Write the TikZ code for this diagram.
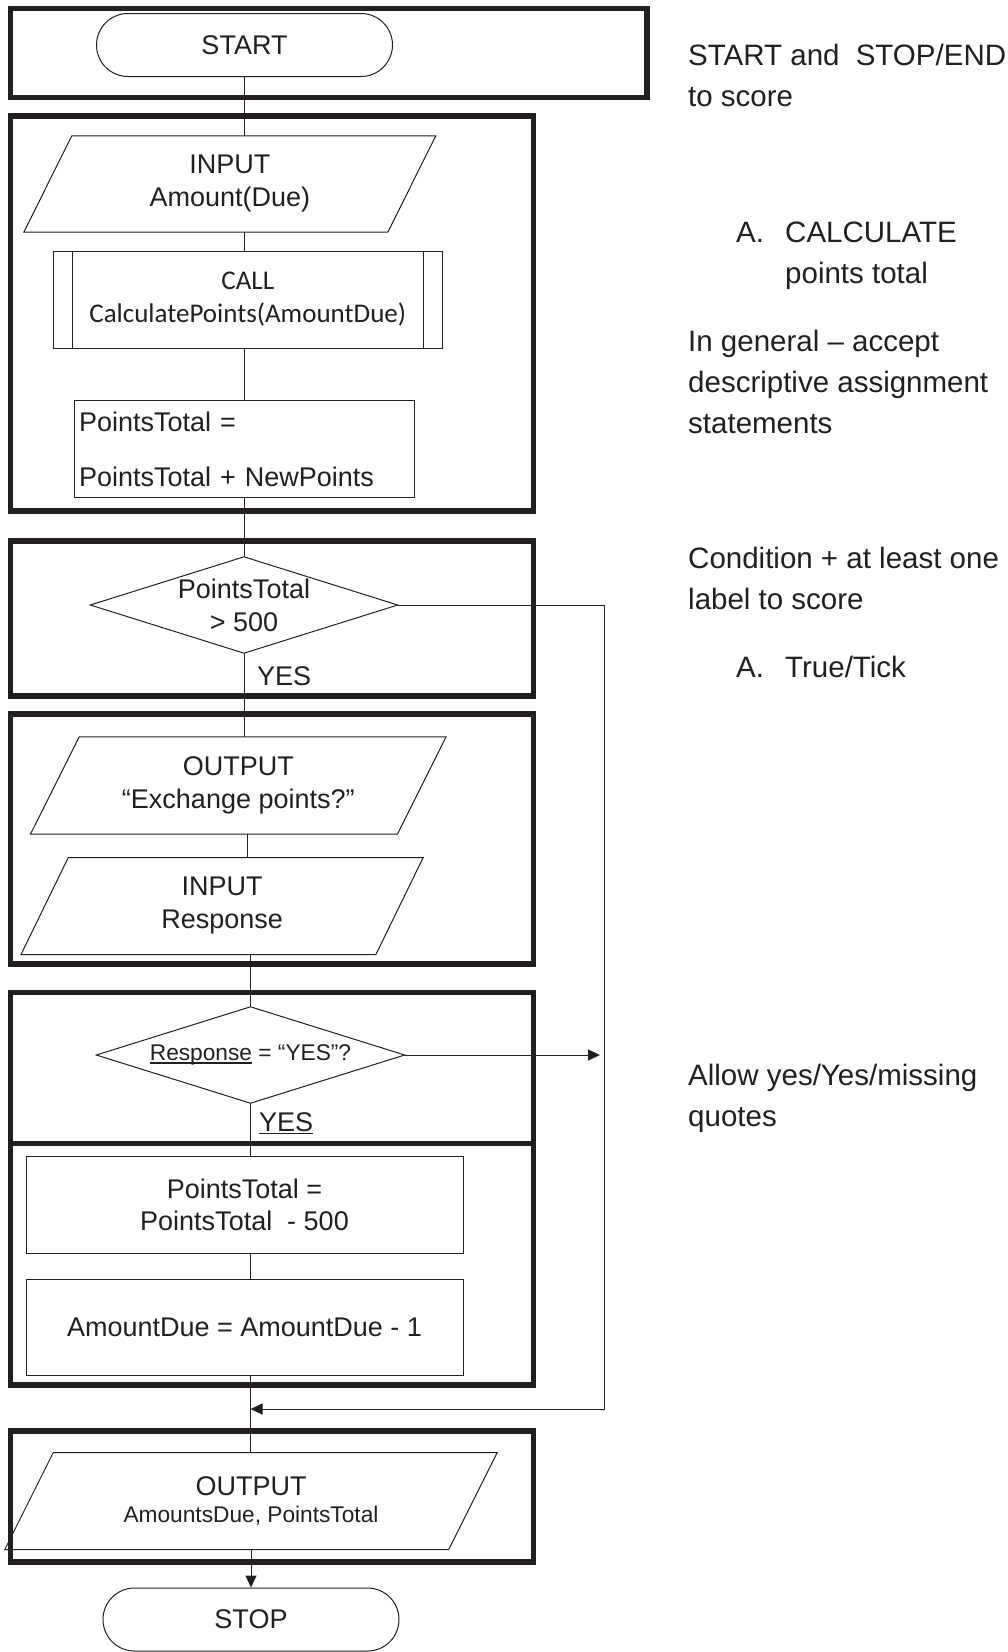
\documentclass[tikz,border=0pt]{standalone}
\usepackage{fontspec}
\setmainfont{Liberation Sans}
\newfontfamily\calfont{Carlito}
\usetikzlibrary{arrows.meta,calc}
\definecolor{ink}{HTML}{231F20}
\newsavebox\ulbox
\newcommand\myul[1]{\sbox\ulbox{#1}\rlap{\rule[-3pt]{\wd\ulbox}{1.4pt}}\usebox\ulbox}
\newcommand\iopath[2]{\draw[thinline] ($(#1.north west)+(#2,0)$) -- (#1.north east) -- ($(#1.south east)-(#2,0)$) -- (#1.south west) -- cycle;}
\newcommand\decpath[1]{\draw[thinline] (#1.north) -- (#1.east) -- (#1.south) -- (#1.west) -- cycle;}
\tikzset{
  blockframe/.style={draw=ink, line width=5.5pt},
  thinline/.style={draw=ink, line width=1pt},
  conn/.style={draw=ink, line width=1pt},
  arr/.style={conn, -{Triangle[length=12pt,width=11pt]}},
  txt/.style={font=\fontsize{27}{33}\selectfont, text=ink},
  sm/.style={font=\fontsize{22.7}{27}\selectfont, text=ink},
  note/.style={font=\fontsize{29.5}{41}\selectfont, anchor=base west, inner sep=0pt, text=ink},
  term/.style={thinline, rectangle, rounded corners=31.5pt, minimum width=296pt, minimum height=63pt, txt, inner sep=0pt},
  procbox/.style={thinline, rectangle, inner sep=0pt, txt, align=center},
  shell/.style={rectangle, inner sep=0pt, txt, align=center},
  lbl/.style={txt, anchor=base west, inner sep=0pt}
}
\begin{document}
\begin{tikzpicture}[x=1pt, y=-1pt, line join=miter]
\useasboundingbox (0,0) rectangle (1008,1652);
\fill[white] (0,0) rectangle (1008,1652);

% flowchart nodes
\node[term] (start) at (244.5,45) {START};
\node[shell, minimum width=411.6pt, minimum height=96pt] (in1) at (229.8,184) {INPUT\\Amount(Due)};
\iopath{in1}{48}
\node[procbox, minimum width=388.5pt, minimum height=97pt, font={\calfont\fontsize{27}{33}\selectfont}] (call) at (247.75,299.5) {CALL\\CalculatePoints(AmountDue)};
\draw[thinline] ([xshift=19pt]call.north west) -- ([xshift=19pt]call.south west);
\draw[thinline] ([xshift=-19pt]call.north east) -- ([xshift=-19pt]call.south east);
\node[procbox, minimum width=340pt, minimum height=96.6pt, align=left, text width=331pt] (pt) at (244.5,449) {PointsTotal =\\[22pt]PointsTotal + NewPoints};
\node[shell, minimum width=307pt, minimum height=96pt] (d1) at (244,605) {PointsTotal\\> 500};
\decpath{d1}
\node[lbl] (yes1) at (257,685) {YES};
\node[shell, minimum width=415.3pt, minimum height=97pt] (out1) at (238.3,785.5) {OUTPUT\\“Exchange points?”};
\iopath{out1}{48.8}
\node[shell, minimum width=401.8pt, minimum height=96.6pt] (in2) at (222.1,906) {INPUT\\Response};
\iopath{in2}{47.3}
\node[shell, sm, minimum width=308pt, minimum height=96pt] (d2) at (250.5,1055) {\myul{Response} = “YES”?};
\decpath{d2}
\node[lbl] (yes2) at (259,1131) {\myul{YES}};
\node[procbox, minimum width=437pt, minimum height=96.6pt] (b1) at (244.5,1205) {PointsTotal =\\[-1pt]PointsTotal\ \ - 500};
\node[procbox, minimum width=437pt, minimum height=96pt] (b2) at (244.5,1327) {AmountDue = AmountDue - 1};
\node[shell, minimum width=492pt, minimum height=96.6pt] (out3) at (251,1501) {OUTPUT\\[-5.7pt]{\fontsize{22.7}{27}\selectfont AmountsDue, PointsTotal}};
\iopath{out3}{48.5}
\node[term] (stop) at (251,1619.5) {STOP};

% connectors
\draw[conn] (start.south) -- (start.south |- in1.north);
\draw[conn] (start.south |- in1.south) -- (start.south |- call.north);
\draw[conn] (start.south |- call.south) -- (start.south |- pt.north);
\draw[conn] (d1.north |- pt.south) -- (d1.north);
\draw[conn] (d1.south) -- (d1.south |- out1.north);
\draw[conn] (call.north |- out1.south) -- (call.north |- in2.north);
\draw[conn] (d2.north |- in2.south) -- (d2.north);
\draw[conn] (d2.south) -- (d2.south |- b1.north);
\draw[conn] (d2.south |- b1.south) -- (d2.south |- b2.north);
\draw[conn] (d2.south |- b2.south) -- (d2.south |- out3.north);
\draw[arr] (stop.north |- out3.south) -- (stop.north);
\coordinate (rj) at (604.5,1409);
\coordinate (yesr) at (600,1055);
\draw[arr] (d1.east) -| (rj) -- (rj -| d2.south);
\draw[arr] (d2.east) -- (yesr);

% thick frames
\draw[blockframe] (10.5,8.5) rectangle (647,97.5);
\draw[blockframe] (10.5,116) rectangle (533.5,511);
\draw[blockframe] (10.5,541) rectangle (533.5,696);
\draw[blockframe] (10.5,714) rectangle (533.5,964);
\draw[blockframe] (10.5,992.5) rectangle (533.5,1143.5);
\draw[blockframe] (10.5,1143.5) rectangle (533.5,1385);
\draw[blockframe] (10.5,1431) rectangle (533.5,1562);

% notes
\node[note] (n1) at (688,65) {START and\hspace{0.55em}STOP/END};
\node[note] (n1b) at (688,106) {to score};
\node[note] (n2) at (736,242) {\makebox[49pt][l]{A.}CALCULATE};
\node[note] (n2b) at (785,283) {points total};
\node[note] (n3) at (688,351.5) {In general – accept};
\node[note] (n3b) at (688,392.5) {descriptive assignment};
\node[note] (n3c) at (688,433.5) {statements};
\node[note] (n4) at (688,568.5) {Condition + at least one};
\node[note] (n4b) at (688,609) {label to score};
\node[note] (n5) at (736,677.5) {\makebox[49pt][l]{A.}True/Tick};
\node[note] (n6) at (688,1085) {Allow yes/Yes/missing};
\node[note] (n6b) at (688,1126) {quotes};
\end{tikzpicture}
\end{document}
